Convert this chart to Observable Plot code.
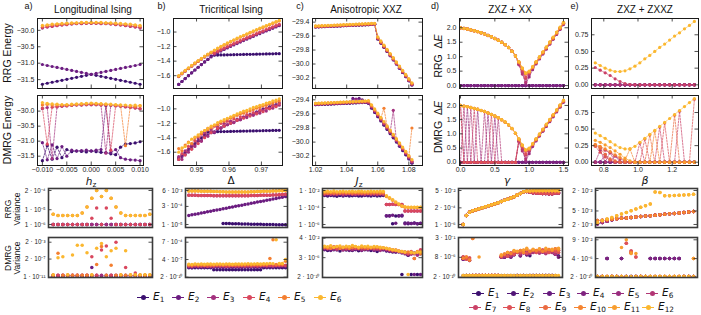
<!DOCTYPE html>
<html><head><meta charset="utf-8">
<script src="https://cdn.jsdelivr.net/npm/d3@7"></script>
<script src="https://cdn.jsdelivr.net/npm/@observablehq/plot@0.6"></script>
<style>
body{margin:0;background:#fff;}
#fig{position:relative;width:701px;height:315px;overflow:hidden;font-family:"Liberation Sans",Arial,Helvetica,sans-serif;color:#111}
#fig svg{position:absolute;overflow:visible}
.lbl{position:absolute;white-space:nowrap;line-height:1.1}
.lbl sub{font-size:70%;vertical-align:-0.25em;line-height:0}
</style></head><body><div id="fig"></div>
<script>
// ---------------- x grids ----------------
const hz = [-0.010,-0.009,-0.008,-0.007,-0.006,-0.005,-0.004,-0.003,-0.002,-0.001,0,0.001,0.002,0.003,0.004,0.005,0.006,0.007,0.008,0.009,0.010];
const delta = [0.9445,0.9455,0.9465,0.9475,0.9485,0.9495,0.9505,0.9515,0.9525,0.9535,0.9545,0.9555,0.9565,0.9575,0.9585,0.9595,0.9605,0.9615,0.9625,0.9635,0.9645,0.9655,0.9665,0.9675,0.9685,0.9695,0.9705,0.9715,0.9725,0.9735,0.9745,0.9755];
const jz = [1.020,1.022,1.024,1.026,1.028,1.030,1.032,1.034,1.036,1.038,1.040,1.042,1.044,1.046,1.048,1.050,1.052,1.054,1.056,1.058,1.060,1.062,1.064,1.066,1.068,1.070,1.072,1.074,1.076,1.078,1.080,1.082];
const gam = [0,0.05,0.1,0.15,0.2,0.25,0.3,0.35,0.4,0.45,0.5,0.55,0.6,0.65,0.7,0.75,0.8,0.85,0.9,0.95,1.0,1.05,1.1,1.15,1.2,1.25,1.3,1.35,1.4,1.45,1.5];
const bet = [0.750,0.779,0.808,0.837,0.866,0.895,0.924,0.953,0.982,1.011,1.040,1.069,1.098,1.127,1.156,1.185,1.214,1.243,1.272,1.301,1.330];

// ---------------- a) Longitudinal Ising ----------------
const aR1 = [-31.64,-31.61,-31.58,-31.55,-31.52,-31.49,-31.46,-31.43,-31.40,-31.37,-31.34,-31.37,-31.40,-31.43,-31.46,-31.49,-31.52,-31.55,-31.58,-31.61,-31.64];
const aR2 = [-31.04,-31.07,-31.10,-31.13,-31.16,-31.19,-31.22,-31.25,-31.28,-31.31,-31.34,-31.31,-31.28,-31.25,-31.22,-31.19,-31.16,-31.13,-31.10,-31.07,-31.04];
const aR3 = [-29.93,-29.90,-29.88,-29.86,-29.84,-29.83,-29.81,-29.80,-29.80,-29.79,-29.79,-29.79,-29.80,-29.80,-29.81,-29.83,-29.84,-29.86,-29.88,-29.90,-29.93];
const aR4 = [-29.91,-29.89,-29.87,-29.85,-29.83,-29.82,-29.80,-29.79,-29.79,-29.78,-29.78,-29.78,-29.79,-29.79,-29.80,-29.82,-29.83,-29.85,-29.87,-29.89,-29.91];
const aR5 = [-29.87,-29.85,-29.83,-29.82,-29.81,-29.80,-29.79,-29.78,-29.77,-29.77,-29.77,-29.77,-29.77,-29.78,-29.79,-29.80,-29.81,-29.82,-29.83,-29.85,-29.87];
const aR6 = [-29.85,-29.83,-29.81,-29.80,-29.79,-29.78,-29.77,-29.77,-29.76,-29.76,-29.76,-29.76,-29.76,-29.77,-29.77,-29.78,-29.79,-29.80,-29.81,-29.83,-29.85];
const aD1 = [-31.65,-31.15,-31.60,-31.20,-31.55,-31.28,-31.35,-31.33,-31.34,-31.36,-31.33,-31.35,-31.37,-31.38,-31.42,-31.45,-31.20,-31.10,-31.08,-31.06,-31.02];
const aD2 = [-31.05,-31.62,-31.12,-31.58,-31.18,-31.50,-31.30,-31.32,-31.31,-31.30,-31.32,-31.30,-31.28,-29.82,-31.38,-31.28,-31.55,-31.60,-31.62,-31.63,-31.65];
const aD3 = [-29.92,-29.88,-31.58,-29.86,-29.84,-29.83,-29.81,-29.80,-29.80,-29.79,-29.79,-29.79,-29.80,-31.40,-29.81,-29.83,-29.84,-29.86,-29.88,-29.90,-29.93];
const aD4 = [-29.90,-31.10,-29.87,-29.85,-29.83,-29.82,-29.80,-29.79,-29.79,-29.78,-29.78,-29.78,-29.79,-29.79,-31.30,-29.82,-29.83,-29.85,-29.87,-29.89,-29.91];
const aD5 = [-29.80,-29.78,-29.80,-29.79,-29.80,-29.80,-29.79,-29.78,-29.77,-29.76,-29.75,-29.76,-29.77,-29.78,-29.79,-29.80,-29.81,-31.15,-29.83,-29.85,-29.82];
const aD6 = [-29.72,-29.74,-29.76,-29.77,-29.78,-29.78,-29.77,-29.76,-29.75,-29.74,-29.73,-29.74,-29.75,-29.76,-29.77,-29.78,-29.79,-29.80,-29.81,-29.80,-29.82];

// ---------------- b) Tricritical Ising ----------------
const bR1 = [-1.720,-1.680,-1.640,-1.600,-1.561,-1.522,-1.484,-1.447,-1.411,-1.376,-1.330,-1.318,-1.316,-1.315,-1.314,-1.313,-1.312,-1.311,-1.310,-1.309,-1.308,-1.307,-1.306,-1.305,-1.304,-1.303,-1.302,-1.301,-1.300,-1.299,-1.298,-1.297];
const bR2 = [-1.720,-1.680,-1.640,-1.600,-1.561,-1.522,-1.484,-1.447,-1.411,-1.376,-1.342,-1.310,-1.285,-1.262,-1.240,-1.219,-1.198,-1.178,-1.158,-1.138,-1.118,-1.098,-1.079,-1.060,-1.041,-1.022,-1.003,-0.985,-0.967,-0.949,-0.931,-0.913];
const bR3 = [-1.612,-1.575,-1.539,-1.504,-1.470,-1.437,-1.405,-1.374,-1.344,-1.315,-1.287,-1.298,-1.273,-1.250,-1.228,-1.207,-1.186,-1.166,-1.146,-1.126,-1.106,-1.086,-1.067,-1.048,-1.029,-1.010,-0.991,-0.973,-0.955,-0.937,-0.919,-0.901];
const bR4 = [-1.606,-1.569,-1.533,-1.498,-1.464,-1.431,-1.399,-1.368,-1.338,-1.309,-1.281,-1.290,-1.265,-1.242,-1.220,-1.199,-1.178,-1.158,-1.138,-1.118,-1.098,-1.078,-1.059,-1.040,-1.021,-1.002,-0.983,-0.965,-0.947,-0.929,-0.911,-0.893];
const bR5 = [-1.608,-1.571,-1.535,-1.500,-1.466,-1.433,-1.401,-1.370,-1.340,-1.311,-1.283,-1.256,-1.230,-1.205,-1.181,-1.158,-1.136,-1.114,-1.093,-1.072,-1.052,-1.032,-1.012,-0.993,-0.974,-0.955,-0.937,-0.919,-0.901,-0.883,-0.865,-0.847];
const bR6 = [-1.600,-1.563,-1.527,-1.492,-1.458,-1.425,-1.393,-1.362,-1.332,-1.303,-1.275,-1.248,-1.222,-1.197,-1.173,-1.150,-1.128,-1.106,-1.085,-1.064,-1.044,-1.024,-1.004,-0.985,-0.966,-0.947,-0.929,-0.911,-0.893,-0.875,-0.857,-0.839];
const bD1 = [-1.68,-1.64,-1.60,-1.56,-1.52,-1.48,-1.44,-1.40,-1.36,-1.32,-1.318,-1.317,-1.316,-1.315,-1.314,-1.313,-1.312,-1.311,-1.310,-1.309,-1.308,-1.307,-1.306,-1.305,-1.304,-1.303,-1.302,-1.301,-1.300,-1.299,-1.298,-1.297];
const bD2 = [-1.70,-1.66,-1.63,-1.56,-1.55,-1.50,-1.45,-1.44,-1.38,-1.36,-1.33,-1.33,-1.28,-1.27,-1.24,-1.22,-1.20,-1.19,-1.16,-1.15,-1.12,-1.10,-1.08,-1.07,-1.04,-1.03,-1.00,-0.99,-0.97,-0.95,-0.94,-0.92];
const bD3 = [-1.66,-1.70,-1.58,-1.60,-1.50,-1.52,-1.40,-1.45,-1.33,-1.38,-1.28,-1.32,-1.25,-1.26,-1.20,-1.22,-1.17,-1.19,-1.14,-1.15,-1.11,-1.12,-1.08,-1.09,-1.05,-1.06,-1.02,-1.03,-0.99,-0.99,-0.96,-0.95];
const bD4 = [-1.70,-1.62,-1.64,-1.52,-1.56,-1.44,-1.48,-1.35,-1.40,-1.27,-1.33,-1.24,-1.27,-1.20,-1.24,-1.17,-1.20,-1.14,-1.16,-1.11,-1.13,-1.08,-1.10,-1.05,-1.07,-1.02,-1.04,-0.99,-1.00,-0.96,-0.97,-0.93];
const bD5 = [-1.55,-1.58,-1.50,-1.46,-1.48,-1.40,-1.38,-1.34,-1.30,-1.29,-1.26,-1.23,-1.22,-1.18,-1.17,-1.14,-1.13,-1.11,-1.09,-1.07,-1.06,-1.04,-1.03,-1.01,-0.99,-0.98,-0.96,-0.95,-0.93,-0.92,-0.90,-0.89];
const bD6 = [-1.60,-1.54,-1.52,-1.47,-1.42,-1.39,-1.36,-1.32,-1.30,-1.27,-1.24,-1.22,-1.19,-1.17,-1.15,-1.13,-1.11,-1.09,-1.07,-1.05,-1.03,-1.02,-1.00,-0.98,-0.97,-0.95,-0.94,-0.92,-0.91,-0.89,-0.88,-0.86];

// ---------------- c) Anisotropic XXZ ----------------
const cR12 = [-29.470,-29.468,-29.466,-29.464,-29.462,-29.460,-29.458,-29.456,-29.454,-29.452,-29.450,-29.448,-29.446,-29.444,-29.442,-29.440,-29.438,-29.436,-29.434,-29.432,-29.64,-29.70,-29.76,-29.82,-29.88,-29.94,-30.00,-30.06,-30.12,-30.18,-30.24,-30.30];
const cR34 = [-29.465,-29.463,-29.461,-29.459,-29.457,-29.455,-29.453,-29.451,-29.449,-29.447,-29.445,-29.443,-29.441,-29.439,-29.437,-29.435,-29.433,-29.431,-29.429,-29.427,-29.63,-29.69,-29.75,-29.81,-29.87,-29.93,-29.99,-30.05,-30.11,-30.17,-30.23,-30.29];
const cR5 = [-29.458,-29.456,-29.454,-29.452,-29.450,-29.448,-29.446,-29.444,-29.442,-29.440,-29.438,-29.436,-29.434,-29.432,-29.430,-29.428,-29.426,-29.424,-29.422,-29.420,-29.62,-29.68,-29.74,-29.80,-29.86,-29.92,-29.98,-30.04,-30.10,-30.16,-30.22,-30.28];
const cR6 = [-29.455,-29.453,-29.451,-29.449,-29.447,-29.445,-29.443,-29.441,-29.439,-29.437,-29.435,-29.433,-29.431,-29.429,-29.427,-29.425,-29.423,-29.421,-29.419,-29.417,-29.61,-29.67,-29.73,-29.79,-29.85,-29.91,-29.97,-30.03,-30.09,-30.15,-30.21,-30.27];
const cD1 = [-29.470,-29.468,-29.466,-29.464,-29.462,-29.460,-29.458,-29.456,-29.454,-29.452,-29.450,-29.448,-29.446,-29.444,-29.442,-29.440,-29.438,-29.45,-29.52,-29.58,-29.64,-29.70,-29.76,-29.82,-29.88,-29.94,-30.00,-30.06,-30.12,-30.18,-30.24,-30.30];
const cD2 = [-29.468,-29.466,-29.464,-29.462,-29.460,-29.458,-29.456,-29.454,-29.452,-29.450,-29.448,-29.446,-29.38,-29.39,-29.38,-29.40,-29.436,-29.45,-29.51,-29.57,-29.63,-29.69,-29.75,-29.81,-29.87,-29.93,-29.99,-30.05,-30.11,-30.17,-30.23,-30.29];
const cD3 = [-29.462,-29.460,-29.458,-29.456,-29.454,-29.452,-29.450,-29.448,-29.446,-29.444,-29.442,-29.440,-29.438,-29.40,-29.436,-29.434,-29.432,-29.44,-29.50,-29.56,-29.62,-29.68,-29.74,-29.80,-29.86,-29.55,-29.98,-30.04,-30.10,-30.16,-30.22,-30.28];
const cD4 = [-29.460,-29.458,-29.456,-29.454,-29.452,-29.450,-29.448,-29.446,-29.444,-29.442,-29.440,-29.438,-29.436,-29.434,-29.432,-29.430,-29.428,-29.43,-29.49,-29.55,-29.61,-29.67,-29.73,-29.79,-29.85,-29.91,-29.97,-30.03,-30.09,-30.15,-30.21,-30.27];
const cD5 = [-29.452,-29.450,-29.448,-29.446,-29.444,-29.442,-29.440,-29.438,-29.436,-29.434,-29.432,-29.430,-29.428,-29.426,-29.424,-29.422,-29.420,-29.42,-29.48,-29.54,-29.60,-29.66,-29.52,-29.78,-29.84,-29.90,-29.96,-30.02,-30.08,-30.14,-30.20,-29.80];
const cD6 = [-29.450,-29.448,-29.446,-29.444,-29.442,-29.440,-29.438,-29.436,-29.434,-29.432,-29.430,-29.428,-29.426,-29.424,-29.422,-29.420,-29.418,-29.41,-29.47,-29.53,-29.59,-29.65,-29.71,-29.77,-29.83,-29.89,-29.95,-30.01,-30.07,-30.13,-30.19,-30.25];

// ---------------- d) ZXZ + XX ----------------
const d0 = [0,0,0,0,0,0,0,0,0,0,0,0,0,0,0,0,0,0,0,0,0,0,0,0,0,0,0,0,0,0,0];
const dE5 = [2.00,1.98,1.96,1.93,1.90,1.87,1.83,1.79,1.74,1.69,1.63,1.57,1.50,1.42,1.32,1.19,1.03,0.74,0.45,0.05,0.30,0.55,0.75,0.92,1.09,1.26,1.43,1.60,1.77,1.94,2.11];
const dE6 = [2.00,1.98,1.96,1.93,1.90,1.87,1.83,1.79,1.74,1.69,1.63,1.57,1.50,1.42,1.32,1.19,1.03,0.72,0.40,0.12,0.38,0.60,0.77,0.94,1.11,1.28,1.45,1.62,1.79,1.96,2.13];
const dE7 = [2.00,1.98,1.96,1.93,1.90,1.87,1.83,1.79,1.74,1.69,1.63,1.57,1.50,1.42,1.32,1.19,1.03,0.78,0.50,0.25,0.46,0.62,0.79,0.96,1.13,1.30,1.47,1.64,1.81,1.98,2.15];
const dE8 = [2.00,1.98,1.96,1.93,1.90,1.87,1.83,1.79,1.74,1.69,1.63,1.57,1.50,1.42,1.32,1.19,1.03,0.80,0.55,0.30,0.44,0.63,0.80,0.97,1.14,1.31,1.48,1.65,1.82,1.99,2.16];
const dE910 = [1.99,1.97,1.95,1.92,1.89,1.86,1.82,1.78,1.73,1.68,1.62,1.56,1.49,1.41,1.31,1.18,1.02,0.81,0.59,0.42,0.47,0.63,0.80,0.97,1.14,1.31,1.48,1.65,1.82,1.99,2.16];
const dE11 = [2.00,1.98,1.96,1.93,1.90,1.87,1.83,1.79,1.74,1.69,1.63,1.57,1.50,1.42,1.32,1.19,1.03,0.82,0.60,0.43,0.49,0.65,0.82,0.99,1.16,1.33,1.50,1.67,1.84,2.01,2.18];
const dE12 = [2.00,1.98,1.96,1.93,1.90,1.87,1.83,1.79,1.74,1.69,1.63,1.57,1.50,1.42,1.32,1.19,1.03,0.83,0.61,0.44,0.50,0.66,0.83,1.00,1.17,1.34,1.51,1.68,1.85,2.02,2.19];
const dD5 = [2.00,0,1.96,0,0,1.87,0,0,1.74,0,1.63,0,0,0,0,0,0,0.74,0.45,0.05,0.30,0.55,0.75,0.92,1.09,1.26,1.43,1.60,1.77,1.94,2.11];
const dD6 = [0,1.98,0,1.93,0,0,0,1.79,0,0,0,1.57,0,0,0,0,0,0.72,0.40,0.12,0.38,0.60,0.77,0.94,1.11,1.28,1.45,1.62,1.79,1.96,2.13];
const dD7 = [0,0,0,0,1.90,0,0,0,0,1.69,0,0,0,0,0,0,0,0.78,0.50,0.25,0.46,0.62,0.79,0.96,1.13,1.30,1.47,1.64,1.81,1.98,2.15];
const dD8 = [1.99,0,0,0,0,0,0,0,0,0,0,0,0,0,0,0,0,0.80,0.55,0.30,0.44,0.63,0.80,0.97,1.14,1.31,1.48,1.65,1.82,1.99,2.16];

// ---------------- e) ZXZ + ZXXZ ----------------
const e0 = [0,0,0,0,0,0,0,0,0,0,0,0,0,0,0,0,0,0,0,0,0];
const eR7 = [0.26,0.22,0.18,0.14,0.09,0.05,0.02,0.005,0,0,0,0,0,0,0,0,0,0,0,0,0];
const eR12 = [0.33,0.29,0.25,0.22,0.20,0.20,0.21,0.24,0.28,0.33,0.39,0.44,0.50,0.56,0.61,0.67,0.73,0.78,0.84,0.89,0.95];
const eD5 = [0,0,0.12,0,0.10,0,0,0,0,0,0,0,0,0,0,0,0,0,0,0,0];
const eD6 = [0,0.18,0,0.15,0,0,0,0,0,0,0,0,0,0,0,0,0,0,0,0,0];
const eD7 = [0.26,0.22,0.18,0.14,0.09,0.05,0.02,0,0,0.29,0,0,0,0.53,0,0,0,0.77,0,0,0];
const eD8 = [0.24,0.15,0.08,0.03,0,0,0,0,0,0,0.35,0,0,0,0.59,0,0,0,0,0,0.95];
const eD9 = [0.25,0.21,0.12,0.05,0.02,0,0,0,0,0,0,0.41,0,0,0,0,0.71,0,0,0,0];
const eD10 = [0.27,0.24,0.20,0.16,0.11,0.07,0.03,0.20,0,0,0,0,0.47,0,0,0,0,0,0,0,0];
const eD11 = [0.33,0.30,0.26,0.22,0.17,0.12,0.06,0.02,0,0,0,0,0,0,0,0,0,0,0,0,0];
const eD12 = [0.44,0.40,0.36,0.31,0.26,0.22,0.20,0.20,0.24,0.30,0.36,0.42,0.48,0.54,0.60,0.66,0.72,0.78,0.84,0.90,0.96];

// ---------------- RRG variance ----------------
const vaR1 = [1e-6,1e-6,1e-6,1e-6,1e-6,1e-6,1e-6,1e-6,1e-6,1e-6,1e-6,1e-6,1e-6,1e-6,1e-6,1e-6,1e-6,1e-6,1e-6,1e-6,1e-6];
const vaR4 = [1e-6,1e-6,1e-6,1e-6,1e-6,1e-6,1e-6,1e-6,2.7e-6,1.3e-5,1e-6,1.3e-5,2.7e-6,1e-6,1e-6,1e-6,1e-6,1e-6,1e-6,1e-6,1e-6];
const vaR6 = [5e-6,4e-6,4e-6,4e-6,4e-6,4e-6,6e-6,1.5e-5,6e-5,2e-4,8e-5,2e-4,6e-5,1.5e-5,6e-6,4e-6,4e-6,4e-6,4e-6,4e-6,5e-6];
const vbR1 = [null,null,null,null,null,null,null,null,null,null,null,1.2e-5,1.2e-5,1.18e-5,1.17e-5,1.15e-5,1.14e-5,1.12e-5,1.1e-5,1.09e-5,1.07e-5,1.06e-5,1.05e-5,1.03e-5,1.02e-5,1e-5,9.9e-6,9.8e-6,9.7e-6,9.6e-6,9.5e-6,9.4e-6];
const vbR2 = [5.5e-5,6.2e-5,6.9e-5,7.7e-5,8.7e-5,9.7e-5,1.09e-4,1.22e-4,1.37e-4,1.53e-4,1.72e-4,1.93e-4,2.16e-4,2.42e-4,2.71e-4,3.04e-4,3.41e-4,3.82e-4,4.28e-4,4.8e-4,5.38e-4,6.03e-4,6.76e-4,7.58e-4,8.5e-4,9.5e-4,1.07e-3,1.2e-3,1.34e-3,1.5e-3,1.69e-3,1.9e-3];
const vbR34 = [2.4e-3,2.4e-3,2.4e-3,2.3e-3,2.3e-3,2.3e-3,2.3e-3,2.3e-3,2.2e-3,2.2e-3,2.2e-3,2.2e-3,2.2e-3,2.2e-3,2.2e-3,2.2e-3,2.2e-3,2.2e-3,2.2e-3,2.2e-3,2.3e-3,2.3e-3,2.3e-3,2.4e-3,2.4e-3,2.5e-3,2.5e-3,2.6e-3,2.6e-3,2.7e-3,2.8e-3,2.9e-3];
const vbR56 = [5.5e-3,5.5e-3,5.4e-3,5.4e-3,5.3e-3,5.3e-3,5.2e-3,5.1e-3,5e-3,4.9e-3,4.8e-3,4.7e-3,4.6e-3,4.6e-3,4.5e-3,4.5e-3,4.5e-3,4.5e-3,4.6e-3,4.6e-3,4.7e-3,4.8e-3,4.9e-3,5e-3,5.1e-3,5.2e-3,5.3e-3,5.4e-3,5.5e-3,5.6e-3,5.8e-3,6e-3];
const vcR1 = [2.5e-3,2.2e-3,2.6e-3,2.4e-3,2.1e-3,2.5e-3,2.3e-3,2.6e-3,2.2e-3,2.4e-3,2.5e-3,2.3e-3,2.2e-3,2.6e-3,2.4e-3,2.3e-3,2.5e-3,2.2e-3,2.4e-3,2.6e-3,1e-5,1.1e-5,1.2e-6,1e-5,1.1e-5,1e-5,1.5e-6,1.2e-6,1.3e-6,1.5e-6,1.2e-6,1.3e-6];
const vcR2 = [3.2e-3,3e-3,3.4e-3,2.9e-3,3.1e-3,3.3e-3,2.8e-3,3.2e-3,3e-3,3.3e-3,2.9e-3,3.1e-3,3.4e-3,3e-3,2.9e-3,3.2e-3,3.1e-3,3e-3,3.3e-3,2.9e-3,1.1e-5,1e-5,1.2e-5,1.4e-6,1e-5,1.2e-5,1.2e-6,1.5e-6,1.3e-6,1.4e-6,1.2e-6,1.4e-6];
const vcR34 = [4e-3,4.3e-3,3.8e-3,4.2e-3,4e-3,4.4e-3,3.9e-3,4.1e-3,4.3e-3,3.8e-3,4e-3,4.2e-3,4.1e-3,3.9e-3,4.3e-3,4e-3,4.2e-3,3.8e-3,4.1e-3,4e-3,2.3e-4,2.3e-4,2.4e-4,2.3e-4,2.2e-4,2.3e-4,4e-5,4e-5,4e-5,4e-5,4e-5,4e-5];
const vcR5 = [5.5e-3,5e-3,5.8e-3,5.2e-3,5.6e-3,5.1e-3,5.7e-3,5.3e-3,5.5e-3,5e-3,5.8e-3,5.4e-3,5.2e-3,5.6e-3,5.1e-3,5.5e-3,5.3e-3,5.7e-3,5.2e-3,5.5e-3,2e-3,1.2e-3,7e-4,4e-4,2.3e-4,1.4e-4,1.1e-4,1e-4,1e-4,1e-4,1e-4,1e-4];
const vcR6 = [7.5e-3,8e-3,7e-3,8.5e-3,7.2e-3,7.8e-3,8.2e-3,7e-3,7.6e-3,8e-3,7.3e-3,7.9e-3,8.4e-3,7.1e-3,7.7e-3,8.1e-3,7.4e-3,7.8e-3,8e-3,7.5e-3,2.4e-3,1.4e-3,8e-4,4.5e-4,2.5e-4,1.5e-4,1.2e-4,1.1e-4,1.1e-4,1.1e-4,1.1e-4,1.1e-4];
const vdRp = [1e-6,1.8e-5,5e-5,8e-5,1.1e-4,1.5e-4,2e-4,2.8e-4,3.8e-4,5.2e-4,7.2e-4,1e-3,1.5e-3,2.2e-3,3.2e-3,4.7e-3,7e-3,1.2e-2,2e-2,3.3e-2,3.5e-2,2.8e-2,2.4e-2,2.2e-2,2.1e-2,2e-2,1.9e-2,1.8e-2,1.8e-2,2.2e-2,2.2e-2];
const vdRy = [1e-6,1.8e-5,5e-5,8e-5,1.1e-4,1.5e-4,2e-4,2.8e-4,3.8e-4,5.2e-4,7.2e-4,1e-3,1.5e-3,2.2e-3,3.2e-3,4.7e-3,7e-3,1.2e-2,2e-2,3.3e-2,4.2e-2,4.4e-2,4.5e-2,4.5e-2,4.6e-2,4.6e-2,4.7e-2,4.7e-2,4.7e-2,4.8e-2,4.8e-2];
const veR1 = [2.1e-3,2.3e-3,2.5e-3,2.75e-3,2.94e-3,3.03e-3,3.12e-3,3.22e-3,3.32e-3,3.42e-3,3.53e-3,3.64e-3,3.75e-3,3.87e-3,3.99e-3,4.11e-3,4.24e-3,4.37e-3,4.5e-3,4.64e-3,4.8e-3];
const veR7 = [2.6e-3,2.68e-3,2.76e-3,2.85e-3,2.94e-3,3.03e-3,3.12e-3,3.22e-3,3.32e-3,3.42e-3,3.53e-3,3.64e-3,3.75e-3,3.87e-3,3.99e-3,4.11e-3,4.24e-3,4.37e-3,4.5e-3,4.64e-3,4.8e-3];
const veR12 = [2.3e-3,2.58e-3,2.89e-3,3.23e-3,3.62e-3,4.06e-3,4.54e-3,5.09e-3,5.7e-3,6.38e-3,7.15e-3,8e-3,1.8e-2,1.75e-2,1.4e-2,1.4e-2,1.42e-2,1.45e-2,1.48e-2,1.5e-2,1.55e-2];

// ---------------- DMRG variance ----------------
const vaD1 = [2e-11,2e-11,2e-11,2e-11,2e-11,2e-11,2e-11,2e-11,2e-11,2e-11,2e-11,2e-11,2e-11,2e-11,2e-11,2e-11,2e-11,2e-11,2e-11,2e-11,2e-11];
const vaD2 = [2.5e-11,2.5e-11,2.5e-11,2.5e-11,2.5e-11,2.5e-11,2.5e-11,2.5e-11,2e-9,2.5e-11,2.5e-11,2.5e-11,2.5e-11,2.5e-11,2.5e-11,2.5e-11,2.5e-11,2.5e-11,2.5e-11,2.5e-11,2.5e-11];
const vaD3 = [3e-11,3e-11,3e-11,3e-11,3e-11,3e-11,3e-11,3e-11,3e-11,3e-11,3e-11,3e-11,3e-11,3e-11,3e-11,3e-11,3e-11,3e-11,3e-11,3e-11,3e-11];
const vaD4 = [3e-11,3e-11,3e-11,3e-11,3e-11,3e-11,3e-11,3e-11,7e-7,3e-11,3e-5,2.4e-4,3e-11,2e-3,3e-11,2e-9,3e-11,1e-10,3e-11,3e-11,3e-11];
const vaD5 = [3e-11,4.6e-6,3e-11,3e-11,3e-11,3e-11,3e-11,3e-11,3e-11,1e-8,2e-4,3e-11,7e-9,3e-11,3e-11,3e-11,3e-11,3e-11,3e-11,3e-11,3e-11];
const vaD6 = [4e-11,4e-7,7e-7,4e-11,1.8e-6,4e-4,4e-4,6e-6,4e-11,7e-5,1e-3,7e-7,2e-5,7e-5,4e-11,1.8e-5,4e-11,4e-11,4e-11,4e-11,4e-11];
const vbD1 = [1.2e-8,1.2e-8,1.2e-8,1.2e-8,1.2e-8,1.2e-8,1.2e-8,1.2e-8,5e-9,5e-9,5e-9,5e-9,5e-9,5e-9,5e-9,5e-9,5e-9,5e-9,5e-9,5e-9,5e-9,5e-9,5e-9,5e-9,1.2e-8,1.2e-8,1.2e-8,1.2e-8,1.2e-8,1.2e-8,1.2e-8,1.2e-8];
const vbD2 = [1.5e-8,1.2e-8,1.8e-8,1.4e-8,1.6e-8,1.3e-8,1.7e-8,1.5e-8,1.4e-8,1.6e-8,1.5e-8,1.3e-8,1.7e-8,1.5e-8,1.4e-8,1.6e-8,1.5e-8,1.3e-8,1.6e-8,1.5e-8,1.7e-8,1.4e-8,1.5e-8,1.6e-8,1.8e-8,1.5e-8,1.7e-8,1.6e-8,1.9e-8,1.7e-8,2e-8,1.8e-8];
const vbD34 = [2.6e-8,2.2e-8,2.8e-8,2.4e-8,2.5e-8,2.9e-8,2.3e-8,2.6e-8,2.4e-8,2.8e-8,2.5e-8,2.7e-8,2.3e-8,2.6e-8,2.9e-8,2.4e-8,2.6e-8,2.8e-8,2.5e-8,2.7e-8,2.4e-8,2.9e-8,2.6e-8,2.8e-8,3e-8,2.7e-8,3.2e-8,2.9e-8,3.1e-8,3e-8,3.4e-8,3.2e-8];
const vbD5 = [4e-8,3.5e-8,4.5e-8,3.8e-8,4.2e-8,3.6e-8,4.4e-8,4e-8,3.7e-8,4.3e-8,4.1e-8,3.9e-8,4.5e-8,4e-8,3.8e-8,4.2e-8,4.4e-8,3.9e-8,4.1e-8,4.6e-8,4.2e-8,4.5e-8,4.8e-8,4.4e-8,5e-8,4.7e-8,6e-7,2e-3,5e-8,5.2e-8,5.5e-8,2e-7];
const vbD6 = [5.5e-8,5e-8,6e-8,5.2e-8,5.8e-8,5.4e-8,6.2e-8,5.6e-8,5.3e-8,6e-8,5.7e-8,5.5e-8,6.1e-8,5.8e-8,5.4e-8,5.9e-8,6.2e-8,5.6e-8,6e-8,6.4e-8,5.8e-8,6.2e-8,6.6e-8,6.1e-8,6.8e-8,6.5e-8,7e-8,6.9e-8,2e-3,7.2e-8,7.5e-8,4e-7];
const vcD1 = [2e-4,1e-4,4e-4,1.5e-4,3e-4,8e-5,2e-4,1.2e-4,5e-4,1e-4,2.5e-4,9e-5,3e-4,1.5e-4,2e-4,1e-4,3e-4,6e-5,1.5e-4,2e-4,8e-5,1.2e-4,5e-5,1e-4,6e-5,8e-10,4e-5,1e-5,8e-10,3e-5,8e-10,2e-5];
const vcD2 = [1.5e-4,3e-4,1e-4,2.5e-4,1.2e-4,4e-4,1.5e-4,2e-4,1e-4,3e-4,1.5e-4,2e-4,1e-4,2.5e-4,1.2e-4,2e-4,1e-4,1.5e-4,2e-4,1.2e-4,1e-4,6e-5,8e-5,4e-5,5e-5,3e-5,2e-5,1e-5,3e-5,8e-10,2e-5,8e-10];
const vcD3 = [3e-4,2e-4,5e-4,1.8e-4,2.5e-4,3e-4,1.2e-4,4e-4,2.2e-4,1.5e-4,3.5e-4,2e-4,1.5e-4,3e-4,2e-4,2.5e-4,1.5e-4,3e-4,1e-4,2e-4,1.5e-4,1e-4,1.2e-4,8e-5,6e-5,5e-5,4e-5,2e-5,1.5e-5,2e-5,1e-5,3e-5];
const vcD4 = [4e-4,2.5e-4,3e-4,6e-4,2e-4,3.5e-4,5e-4,2e-4,3e-4,4e-4,2.5e-4,3e-4,5e-4,2e-4,3.5e-4,3e-4,4e-4,2e-4,2.5e-4,3e-4,2e-4,1.5e-4,8e-5,1.2e-4,7e-5,5e-5,3e-5,2e-5,6e-5,2e-6,4e-5,1.5e-4];
const vcD5 = [5e-4,4e-4,3e-4,4.5e-4,6e-4,2.5e-4,4e-4,5e-4,3e-4,4.5e-4,6e-4,3.5e-4,4e-4,5e-4,3e-4,4e-4,3.5e-4,5e-4,3e-4,4e-4,2.5e-4,2e-4,1.5e-4,1e-4,8e-5,6e-5,4e-5,5e-5,3e-5,2e-6,6e-5,2e-5];
const vcD6 = [8e-4,6e-4,1e-3,5e-4,7e-4,9e-4,5e-4,8e-4,6e-4,1.2e-3,7e-4,5e-4,9e-4,6e-4,8e-4,5e-4,7e-4,6e-4,5e-4,4e-4,3e-4,2e-4,1.5e-4,1.2e-4,8e-5,6e-5,5e-5,8e-10,4e-5,3e-5,4e-5,5e-5];
const vdD1 = [5e-10,5e-10,5e-10,5e-10,5e-10,5e-10,5e-10,5e-10,5e-10,5e-10,5e-10,5e-10,5e-10,5e-10,5e-10,5e-10,5e-10,5e-10,5e-10,5e-10,5e-10,2e-5,5e-10,5e-10,5e-10,5e-10,5e-10,5e-10,5e-10,5e-10,2e-5];
const vdD2 = [3e-6,5e-10,5e-10,5e-10,5e-10,5e-10,5e-10,5e-10,5e-10,5e-10,5e-10,5e-10,1e-5,8e-6,2e-5,1e-5,3e-5,5e-10,2e-5,5e-10,3e-5,5e-10,5e-10,5e-10,5e-10,5e-10,5e-10,5e-10,5e-10,4e-5,1e-5];
const vdD56 = [8e-6,5e-6,1.5e-6,5e-10,5e-10,5e-10,5e-10,5e-10,5e-10,5e-10,5e-10,5e-10,8e-6,1.5e-5,4e-5,2e-5,6e-5,1e-4,5e-5,8e-5,1.5e-4,6e-5,1e-4,2e-4,8e-5,1.2e-4,6e-5,2e-4,1e-4,5e-5,3e-4];
const vdD78 = [1e-5,3e-6,6e-6,5e-10,5e-10,5e-10,5e-10,5e-10,5e-10,5e-10,5e-10,5e-10,1.2e-5,3e-5,1.5e-5,8e-5,4e-5,1.5e-4,1e-4,3e-4,7e-5,1.5e-4,3e-4,1e-4,2e-4,4e-4,1.5e-4,1e-4,3e-4,2e-4,1e-4];
const vdD910 = [5e-6,1e-5,2e-6,2e-1,5e-10,5e-10,5e-10,5e-10,5e-10,5e-10,5e-10,5e-10,2e-5,5e-5,1e-4,6e-5,2e-4,1.5e-4,3e-4,1e-4,5e-4,2e-4,4e-4,3e-4,6e-4,2e-4,4e-4,5e-4,3e-4,8e-4,4e-4];
const vdD11 = [5e-10,5e-10,5e-10,5e-10,5e-10,1e-5,5e-10,5e-10,5e-10,5e-10,5e-10,5e-10,3e-5,5e-10,1e-4,5e-10,3e-4,2e-4,5e-10,4e-4,1e-3,5e-10,6e-4,5e-10,8e-4,5e-10,1e-3,5e-10,6e-4,5e-10,1e-3];
const vdD12 = [5e-10,5e-10,5e-10,5e-10,5e-10,5e-10,5e-10,5e-10,5e-10,5e-10,5e-10,5e-10,5e-10,5e-10,5e-10,5e-10,5e-10,5e-10,5e-10,5e-10,5e-10,5e-10,5e-10,5e-10,5e-10,5e-10,5e-10,5e-10,5e-10,5e-10,5e-10];
const veD1 = [3e-10,3e-10,4e-6,3e-10,3e-10,4e-6,3e-10,3e-10,3e-10,3e-10,3e-10,4e-6,4e-6,4e-6,4e-6,4e-6,4e-6,4e-6,3e-10,3e-10,3e-10];
const veD56 = [3e-10,3e-10,3e-10,3e-10,3e-10,3e-10,3e-10,8e-5,3e-10,3e-10,3e-10,3e-10,3e-10,3e-10,3e-10,3e-10,3e-10,3e-10,3e-10,3e-10,3e-10];
const veD78 = [3e-10,3e-10,3e-10,3e-10,3e-10,3e-10,1.4e-2,2.3e-4,1e-5,3e-10,3e-10,3e-10,3e-10,3e-10,3e-10,3e-10,3e-10,3e-10,3e-10,3e-10,3e-10];
const veD910 = [3e-10,3e-10,3e-10,3e-10,3e-10,3e-10,3e-10,1e-4,3e-10,3e-10,3e-10,3e-10,3e-10,3e-10,3e-10,3e-10,3e-10,3e-10,3e-10,3e-10,4e-6];
const veD11 = [3e-10,3e-10,3e-10,3e-10,3e-10,1.5e-3,9e-2,6e-5,6e-5,3e-10,3e-10,3e-10,3e-10,3e-10,3e-10,3e-10,3e-10,3e-10,3e-10,3e-10,4e-6];
const veD12 = [3e-10,3e-10,3e-10,3e-10,3e-10,3e-10,3e-10,3e-10,3e-10,3e-10,3e-10,3e-10,3e-10,3e-10,3e-10,3e-10,3e-10,3e-10,3e-10,3e-10,3e-10];

// ---------------- ticks & labels ----------------
const aXT = [-0.01,-0.005,0,0.005,0.01], aXL = ["−0.010","−0.005","0.000","0.005","0.010"];
const aYT = [-30,-30.5,-31,-31.5], aYL = ["−30.0","−30.5","−31.0","−31.5"];
const bXT = [0.95,0.96,0.97], bXL = ["0.95","0.96","0.97"];
const bYT = [-1.0,-1.2,-1.4,-1.6], bYL = ["−1.0","−1.2","−1.4","−1.6"];
const cXT = [1.02,1.04,1.06,1.08], cXL = ["1.02","1.04","1.06","1.08"];
const cYT = [-29.4,-29.6,-29.8,-30.0,-30.2], cYL = ["−29.4","−29.6","−29.8","−30.0","−30.2"];
const dXT = [0,0.5,1,1.5], dXL = ["0.0","0.5","1.0","1.5"];
const dYT = [0,0.5,1,1.5,2], dYL = ["0.0","0.5","1.0","1.5","2.0"];
const eXT = [0.8,1.0,1.2], eXL = ["0.8","1.0","1.2"];
const eYT = [0,0.25,0.5,0.75], eYL = ["0.00","0.25","0.50","0.75"];
const vaRT = [1e-6,1e-5,2e-4], vaRL = ["1 · 10⁻⁶","1 · 10⁻⁵","2 · 10⁻⁴"];
const vbRT = [1e-5,3e-4,6e-3], vbRL = ["1 · 10⁻⁵","3 · 10⁻⁴","6 · 10⁻³"];
const vcRT = [1e-6,1e-4,1e-2], vcRL = ["1 · 10⁻⁶","1 · 10⁻⁴","1 · 10⁻²"];
const vdRT = [1e-6,2e-4,5e-2], vdRL = ["1 · 10⁻⁶","2 · 10⁻⁴","5 · 10⁻²"];
const veRT = [2e-3,5e-3,2e-2], veRL = ["2 · 10⁻³","5 · 10⁻³","2 · 10⁻²"];
const vaDT = [1e-11,2e-7,2e-3], vaDL = ["1 · 10⁻¹¹","2 · 10⁻⁷","2 · 10⁻³"];
const vbDT = [2e-10,4e-7,7e-4], vbDL = ["2 · 10⁻¹⁰","4 · 10⁻⁷","7 · 10⁻⁴"];
const vcDT = [2e-10,3e-6,4e-2], vcDL = ["2 · 10⁻¹⁰","3 · 10⁻⁶","4 · 10⁻²"];
const vdDT = [2e-10,8e-6,3e-1], vdDL = ["2 · 10⁻¹⁰","8 · 10⁻⁶","3 · 10⁻¹"];
const veDT = [2e-10,4e-6,9e-2], veDL = ["2 · 10⁻¹⁰","4 · 10⁻⁶","9 · 10⁻²"];

// ---------------- colours ----------------
const stops = ["#3b0f6f","#6b1c80","#a3307e","#d9475e","#f47f30","#fbb72f"];
const ramp = d3.piecewise(d3.interpolateRgb, stops);
const C6 = stops;
const C12 = d3.range(12).map(i => d3.color(ramp(i / 11)).formatHex());

// ---------------- drawing ----------------
const FONT = '"Liberation Sans", Arial, Helvetica, sans-serif';
const fig = document.getElementById("fig");

function panel(p) {
  const [x0, y0, x1, y1] = p.frame;
  const W = x1 - x0, H = y1 - y0;
  const ml = 46, mr = 4, mt = 4, mb = 14;
  const marks = [];
  p.series.forEach(s => {
    const data = p.x.map((x, i) => ({x, y: s.y[i]})).filter(d => d.y != null);
    if (p.lines) marks.push(Plot.line(data, {x: "x", y: "y", stroke: s.c, strokeWidth: 0.7, strokeDasharray: "1.8,1.3", clip: true}));
    marks.push(Plot.dot(data, {x: "x", y: "y", fill: s.c, r: p.r, clip: true}));
  });
  const tl = 3.5, tc = "#222";
  if (p.xTicks) {
    marks.push(Plot.tickX(p.xTicks, {x: d => d, insetBottom: H - tl, stroke: tc, strokeWidth: 0.8}));
    marks.push(Plot.tickX(p.xTicks, {x: d => d, insetTop: H - tl, stroke: tc, strokeWidth: 0.8}));
  }
  marks.push(Plot.tickY(p.yTicks, {y: d => d, insetRight: W - tl, stroke: tc, strokeWidth: 0.8}));
  marks.push(Plot.tickY(p.yTicks, {y: d => d, insetLeft: W - tl, stroke: tc, strokeWidth: 0.8}));
  marks.push(Plot.frame({stroke: p.fc || "#1a1a1a", strokeWidth: p.fw || 1}));
  marks.push(Plot.text(p.yTicks, {y: d => d, text: (d, i) => p.yLabels[i], frameAnchor: "left", textAnchor: "end", dx: -3, fill: "#1e1e1e"}));
  const xl = new Map((p.xTicks || []).map((t, i) => [t, p.xLabels[i]]));
  const svg = Plot.plot({
    width: ml + W + mr, height: mt + H + mb,
    marginLeft: ml, marginRight: mr, marginTop: mt, marginBottom: mb,
    x: p.showX ? {domain: p.xDomain, ticks: p.xTicks, tickSize: 0, tickPadding: 2, tickFormat: d => xl.get(d), label: null}
               : {domain: p.xDomain, axis: null},
    y: {type: p.yType || "linear", domain: p.yDomain, axis: null},
    style: {fontSize: (p.fs || 7) + "px", fontFamily: FONT, background: "none", color: "#1e1e1e", overflow: "visible"},
    marks
  });
  svg.style.position = "absolute";
  svg.style.left = (x0 - ml) + "px";
  svg.style.top = (y0 - mt) + "px";
  fig.appendChild(svg);
}

function S(arrs, pal) { return arrs.map((y, i) => ({y, c: pal[i]})); }

// column frames
const F12 = {a: [37, 143], b: [173, 282], c: [312, 422], d: [459, 568], e: [591, 698]};
const F34 = {a: [48, 152], b: [185, 287], c: [322, 422], d: [458, 562], e: [595, 697]};
const R1 = [18, 88], R2 = [95, 165], R3 = [188, 227], R4 = [237, 277];
const fr = (c, r) => [c[0], r[0], c[1], r[1]];

// Row 1 & 2 energies
const en = {lines: true, r: 1.6};
panel({...en, frame: fr(F12.a, R1), x: hz, xDomain: [-0.011, 0.0107], yDomain: [-31.77, -29.64], xTicks: aXT, xLabels: aXL, yTicks: aYT, yLabels: aYL, series: S([aR1, aR2, aR3, aR4, aR5, aR6], C6)});
panel({...en, frame: fr(F12.a, R2), x: hz, xDomain: [-0.011, 0.0107], yDomain: [-31.81, -29.48], showX: true, xTicks: aXT, xLabels: aXL, yTicks: aYT, yLabels: aYL, series: S([aD1, aD2, aD3, aD4, aD5, aD6], C6)});
panel({...en, frame: fr(F12.b, R1), x: delta, xDomain: [0.9429, 0.9765], yDomain: [-1.776, -0.814], xTicks: bXT, xLabels: bXL, yTicks: bYT, yLabels: bYL, series: S([bR1, bR2, bR3, bR4, bR5, bR6], C6)});
panel({...en, frame: fr(F12.b, R2), x: delta, xDomain: [0.9429, 0.9765], yDomain: [-1.784, -0.815], showX: true, xTicks: bXT, xLabels: bXL, yTicks: bYT, yLabels: bYL, series: S([bD1, bD2, bD3, bD4, bD5, bD6], C6)});
panel({...en, frame: fr(F12.c, R1), x: jz, xDomain: [1.018, 1.0888], yDomain: [-30.351, -29.348], xTicks: cXT, xLabels: cXL, yTicks: cYT, yLabels: cYL, series: S([cR12, cR12, cR34, cR34, cR5, cR6], C6)});
panel({...en, frame: fr(F12.c, R2), x: jz, xDomain: [1.018, 1.0888], yDomain: [-30.332, -29.339], showX: true, xTicks: cXT, xLabels: cXL, yTicks: cYT, yLabels: cYL, series: S([cD1, cD2, cD3, cD4, cD5, cD6], C6)});
panel({...en, frame: fr(F12.d, R1), x: gam, xDomain: [-0.015, 1.573], yDomain: [-0.1, 2.32], xTicks: dXT, xLabels: dXL, yTicks: dYT, yLabels: dYL, series: S([d0, d0, d0, d0, dE5, dE6, dE7, dE8, dE910, dE910, dE11, dE12], C12)});
panel({...en, frame: fr(F12.d, R2), x: gam, xDomain: [-0.015, 1.573], yDomain: [-0.115, 2.35], showX: true, xTicks: dXT, xLabels: dXL, yTicks: dYT, yLabels: dYL, series: S([d0, d0, d0, d0, dD5, dD6, dD7, dD8, dE910, dE910, dE11, dE12], C12)});
panel({...en, frame: fr(F12.e, R1), x: bet, xDomain: [0.728, 1.354], yDomain: [-0.055, 0.994], xTicks: eXT, xLabels: eXL, yTicks: eYT, yLabels: eYL,
  series: [...S([e0, e0, e0, e0, e0, e0, eR7], C12), {y: eR12, c: C12[11]}]});
panel({...en, frame: fr(F12.e, R2), x: bet, xDomain: [0.728, 1.354], yDomain: [-0.05, 1.007], showX: true, xTicks: eXT, xLabels: eXL, yTicks: eYT, yLabels: eYL, series: S([e0, e0, e0, e0, eD5, eD6, eD7, eD8, eD9, eD10, eD11, eD12], C12)});

// Row 3 & 4 variances
const va = {lines: false, r: 1.75, yType: "log", fs: 6.3, fc: "#3a3a3a", fw: 1.6};
panel({...va, frame: fr(F34.a, R3), x: hz, xDomain: [-0.01097, 0.01056], yDomain: [6.27e-7, 2.73e-4], yTicks: vaRT, yLabels: vaRL, series: S([vaR1, vaR1, vaR1, vaR4, vaR6, vaR6], C6)});
panel({...va, frame: fr(F34.b, R3), x: delta, xDomain: [0.94344, 0.97614], yDomain: [5.68e-6, 8.74e-3], yTicks: vbRT, yLabels: vbRL, series: S([vbR1, vbR2, vbR34, vbR34, vbR56, vbR56], C6)});
panel({...va, frame: fr(F34.c, R3), x: jz, xDomain: [1.0187, 1.0833], yDomain: [4.44e-7, 1.72e-2], yTicks: vcRT, yLabels: vcRL, series: S([vcR1, vcR2, vcR34, vcR34, vcR5, vcR6], C6)});
panel({...va, frame: fr(F34.d, R3), x: gam, xDomain: [-0.074, 1.563], yDomain: [3.85e-7, 9.45e-2], yTicks: vdRT, yLabels: vdRL, series: S([vdRp, vdRp, vdRp, vdRp, vdRp, vdRp, vdRp, vdRp, vdRy, vdRy, vdRy, vdRy], C12)});
panel({...va, frame: fr(F34.e, R3), x: bet, xDomain: [0.738, 1.354], yDomain: [1.63e-3, 2.29e-2], yTicks: veRT, yLabels: veRL, series: S([veR1, veR1, veR1, veR1, veR1, veR1, veR7, veR7, veR7, veR7, veR12, veR12], C12)});
panel({...va, frame: fr(F34.a, R4), x: hz, xDomain: [-0.01097, 0.01056], yDomain: [8.5e-12, 2.61e-2], yTicks: vaDT, yLabels: vaDL, series: S([vaD1, vaD2, vaD3, vaD4, vaD5, vaD6], C6)});
panel({...va, frame: fr(F34.b, R4), x: delta, xDomain: [0.94344, 0.97614], yDomain: [1.76e-10, 5.29e-3], yTicks: vbDT, yLabels: vbDL, series: S([vbD1, vbD2, vbD34, vbD34, vbD5, vbD6], C6)});
panel({...va, frame: fr(F34.c, R4), x: jz, xDomain: [1.0187, 1.0833], yDomain: [1.9e-10, 5.6e-2], yTicks: vcDT, yLabels: vcDL, series: S([vcD1, vcD2, vcD3, vcD4, vcD5, vcD6], C6)});
panel({...va, frame: fr(F34.d, R4), x: gam, xDomain: [-0.074, 1.563], yDomain: [1.7e-10, 3.2e-1], yTicks: vdDT, yLabels: vdDL, series: S([vdD1, vdD2, vdD2, vdD2, vdD56, vdD56, vdD78, vdD78, vdD910, vdD910, vdD11, vdD12], C12)});
panel({...va, frame: fr(F34.e, R4), x: bet, xDomain: [0.738, 1.354], yDomain: [1.7e-10, 3.07e-1], yTicks: veDT, yLabels: veDL, series: S([veD1, veD1, veD1, veD1, veD56, veD56, veD78, veD78, veD910, veD910, veD11, veD12], C12)});

// ---------------- text ----------------
function lbl(html, x, y, size, opt = {}) {
  const d = document.createElement("div");
  d.className = "lbl";
  d.innerHTML = html;
  d.style.left = x + "px";
  d.style.top = y + "px";
  d.style.fontSize = size + "px";
  if (opt.family) d.style.fontFamily = opt.family;
  if (opt.align) d.style.textAlign = opt.align;
  if (opt.lh) d.style.lineHeight = opt.lh;
  const tx = opt.left ? "0" : "-50%";
  d.style.transform = `translate(${tx},-50%)` + (opt.rot ? ` rotate(${opt.rot}deg)` : "");
  fig.appendChild(d);
}
const MATH = '"DejaVu Sans", sans-serif';
lbl("a)", 28.5, 6.5, 9); lbl("Longitudinal Ising", 93, 9, 10);
lbl("b)", 161.5, 6.5, 9); lbl("Tricritical Ising", 231, 9, 10);
lbl("c)", 300, 6.5, 9); lbl("Anisotropic XXZ", 366, 9, 10);
lbl("d)", 435, 6.5, 9); lbl("ZXZ + XX", 510, 9, 10);
lbl("e)", 574.5, 6.5, 9); lbl("ZXZ + ZXXZ", 645, 9, 10);

lbl("RRG Energy", 8, 53, 10.5, {rot: -90});
lbl("DMRG Energy", 8, 130, 10.5, {rot: -90});
lbl('RRG&nbsp;&nbsp;Δ<i style="font-family:' + MATH + '">E</i>', 439, 56, 10.5, {rot: -90});
lbl('DMRG&nbsp;&nbsp;Δ<i style="font-family:' + MATH + '">E</i>', 439, 127, 10.5, {rot: -90});
lbl("RRG<br>Variance", 13, 209, 8.5, {rot: -90, align: "center"});
lbl("DMRG<br>Variance", 13, 258, 8.5, {rot: -90, align: "center"});

lbl("<i>h</i><sub>z</sub>", 91, 180.5, 10.5, {family: MATH, lh: 1});
lbl("Δ", 231, 180, 10.5, {family: MATH, lh: 1});
lbl("<i>J</i><sub>z</sub>", 359, 180.5, 10.5, {family: MATH, lh: 1});
lbl("<i>γ</i>", 507, 180, 10.5, {family: MATH, lh: 1});
lbl("<i>β</i>", 645, 180, 10.5, {family: MATH, lh: 1});

// ---------------- legends ----------------
function legItem(k, color, cx, cy) {
  const ln = document.createElement("div");
  ln.style.cssText = `position:absolute;left:${cx - 6}px;top:${cy - 0.5}px;width:12px;height:1px;background:${color}`;
  const dt = document.createElement("div");
  dt.style.cssText = `position:absolute;left:${cx - 2.5}px;top:${cy - 2.5}px;width:5px;height:5px;border-radius:50%;background:${color}`;
  fig.appendChild(ln); fig.appendChild(dt);
  lbl(`<i>E</i><sub>${k}</sub>`, cx + 10, cy, 10.5, {left: true, family: MATH});
}
const leg1X = [143, 178, 213, 249, 284, 320];
leg1X.forEach((x, i) => legItem(i + 1, C6[i], x, 297));
const leg2aX = [478, 513, 549, 583, 618, 652];
const leg2bX = [475, 509, 545, 580, 614, 648];
leg2aX.forEach((x, i) => legItem(i + 1, C12[i], x, 293));
leg2bX.forEach((x, i) => legItem(i + 7, C12[i + 6], x, 307));
</script></body></html>
